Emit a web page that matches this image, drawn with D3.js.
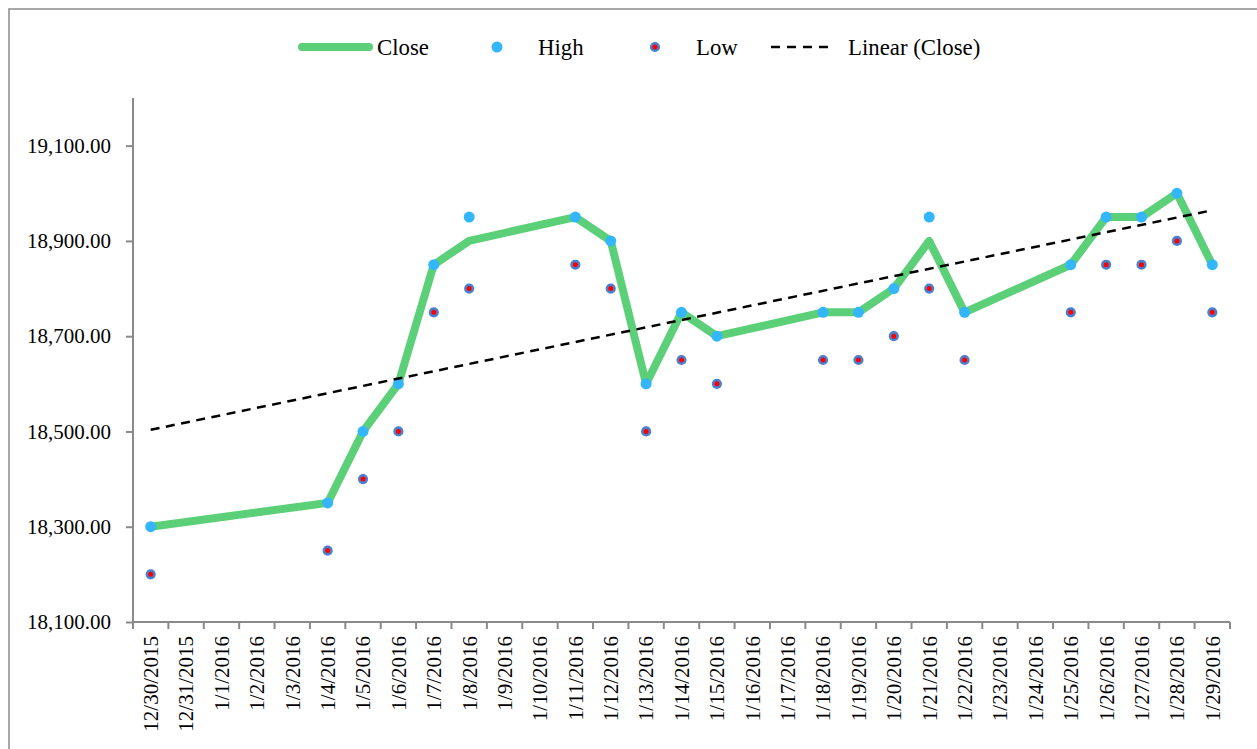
<!DOCTYPE html>
<html><head><meta charset="utf-8">
<script src="https://cdn.jsdelivr.net/npm/d3@7"></script>
<style>
html,body{margin:0;padding:0;background:#fff;}
svg{display:block;font-family:"Liberation Serif","Times New Roman",serif;}
</style></head>
<body><svg id="c" width="1257" height="749"></svg>
<script>
const categories = ["12/30/2015","12/31/2015","1/1/2016","1/2/2016","1/3/2016","1/4/2016","1/5/2016","1/6/2016","1/7/2016","1/8/2016","1/9/2016","1/10/2016","1/11/2016","1/12/2016","1/13/2016","1/14/2016","1/15/2016","1/16/2016","1/17/2016","1/18/2016","1/19/2016","1/20/2016","1/21/2016","1/22/2016","1/23/2016","1/24/2016","1/25/2016","1/26/2016","1/27/2016","1/28/2016","1/29/2016"];
const tradeDates = ["12/30/2015","1/4/2016","1/5/2016","1/6/2016","1/7/2016","1/8/2016","1/11/2016","1/12/2016","1/13/2016","1/14/2016","1/15/2016","1/18/2016","1/19/2016","1/20/2016","1/21/2016","1/22/2016","1/25/2016","1/26/2016","1/27/2016","1/28/2016","1/29/2016"];
const closeVals = [18300,18350,18500,18600,18850,18900,18950,18900,18600,18750,18700,18750,18750,18800,18900,18750,18850,18950,18950,19000,18850];
const highVals  = [18300,18350,18500,18600,18850,18950,18950,18900,18600,18750,18700,18750,18750,18800,18950,18750,18850,18950,18950,19000,18850];
const lowVals   = [18200,18250,18400,18500,18750,18800,18850,18800,18500,18650,18600,18650,18650,18700,18800,18650,18750,18850,18850,18900,18750];
const yTicks = [18100,18300,18500,18700,18900,19100];
const yDomain = [18100,19200];

const svg = d3.select("#c");
const axisColor = "#8a8a8a";
const green = "#5cd079", highC = "#33b6fb", lowFill = "#ff0000", lowStroke = "#4b80cf";

// outer frame
svg.append("rect").attr("x",9).attr("y",9).attr("width",1400).attr("height",900)
  .attr("fill","none").attr("stroke",axisColor).attr("stroke-width",1.5);

const x = d3.scaleBand().domain(categories).range([133,1230]).paddingInner(0).paddingOuter(0);
const y = d3.scaleLinear().domain(yDomain).range([622,98]);
const cx = d => x(d) + x.bandwidth()/2;

// y axis
const gy = svg.append("g").attr("transform","translate(133,0)")
  .call(d3.axisLeft(y).tickValues(yTicks).tickFormat(d3.format(",.2f")).tickSize(7).tickPadding(15));
gy.select(".domain").attr("stroke",axisColor).attr("stroke-width",2).attr("d","M0,98V622");
gy.selectAll(".tick line").attr("stroke",axisColor).attr("stroke-width",2);
gy.selectAll(".tick text").attr("font-size",21).attr("fill","#000").attr("font-family","Liberation Serif");

// x axis
const gx = svg.append("g").attr("transform","translate(0,622)");
gx.append("line").attr("x1",133).attr("x2",1230).attr("y1",0).attr("y2",0)
  .attr("stroke",axisColor).attr("stroke-width",2);
const bounds = categories.map(c => x(c)).concat([x(categories[categories.length-1]) + x.bandwidth()]);
gx.selectAll("line.tk").data(bounds).enter().append("line").attr("class","tk")
  .attr("x1",d=>d).attr("x2",d=>d).attr("y1",0).attr("y2",7)
  .attr("stroke",axisColor).attr("stroke-width",2);
gx.selectAll("text.lbl").data(categories).enter().append("text").attr("class","lbl")
  .attr("transform",d=>`translate(${cx(d)},14) rotate(-90)`)
  .attr("text-anchor","end").attr("dy","0.35em")
  .attr("font-size",21).attr("fill","#000").text(d=>d);

// close line
const pts = tradeDates.map((d,i)=>({d, c:closeVals[i], h:highVals[i], l:lowVals[i]}));
svg.append("path").datum(pts)
  .attr("d", d3.line().x(p=>cx(p.d)).y(p=>y(p.c)))
  .attr("fill","none").attr("stroke",green).attr("stroke-width",8)
  .attr("stroke-linejoin","round").attr("stroke-linecap","round");

// trend line (least squares over day index)
const xi = tradeDates.map(d => categories.indexOf(d));
const n = xi.length;
const mx = d3.mean(xi), my = d3.mean(closeVals);
let sxy=0,sxx=0;
xi.forEach((v,i)=>{sxy+=(v-mx)*(closeVals[i]-my); sxx+=(v-mx)*(v-mx);});
const slope = sxy/sxx, icpt = my - slope*mx;
const i0 = xi[0], i1 = xi[n-1];
const trend = [i0,i1].map(i=>({d:categories[i], v:icpt+slope*i}));

// high markers
svg.selectAll("circle.hi").data(pts).enter().append("circle").attr("class","hi")
  .attr("cx",p=>cx(p.d)).attr("cy",p=>y(p.h)).attr("r",5.5).attr("fill",highC);
// low markers
svg.selectAll("circle.lo").data(pts).enter().append("circle").attr("class","lo")
  .attr("cx",p=>cx(p.d)).attr("cy",p=>y(p.l)).attr("r",3.8)
  .attr("fill",lowFill).attr("stroke",lowStroke).attr("stroke-width",2.6);

svg.append("path").datum(trend)
  .attr("d", d3.line().x(p=>cx(p.d)).y(p=>y(p.v)))
  .attr("fill","none").attr("stroke","#000").attr("stroke-width",2.5)
  .attr("stroke-dasharray","9,6.5");

// legend
const lg = svg.append("g").attr("font-size",22.8).attr("fill","#000");
const ly = 47;
lg.append("line").attr("x1",302).attr("x2",369).attr("y1",ly).attr("y2",ly)
  .attr("stroke",green).attr("stroke-width",8).attr("stroke-linecap","round");
lg.append("text").attr("x",377).attr("y",ly).attr("dy","0.33em").text("Close");
lg.append("circle").attr("cx",497).attr("cy",ly).attr("r",5.5).attr("fill",highC);
lg.append("text").attr("x",538).attr("y",ly).attr("dy","0.33em").text("High");
lg.append("circle").attr("cx",655).attr("cy",ly).attr("r",3.8).attr("fill",lowFill)
  .attr("stroke",lowStroke).attr("stroke-width",2.6);
lg.append("text").attr("x",696).attr("y",ly).attr("dy","0.33em").text("Low");
lg.append("line").attr("x1",771).attr("x2",834).attr("y1",ly).attr("y2",ly)
  .attr("stroke","#000").attr("stroke-width",2.5).attr("stroke-dasharray","9,7");
lg.append("text").attr("x",848).attr("y",ly).attr("dy","0.33em").text("Linear (Close)");
</script></body></html>
